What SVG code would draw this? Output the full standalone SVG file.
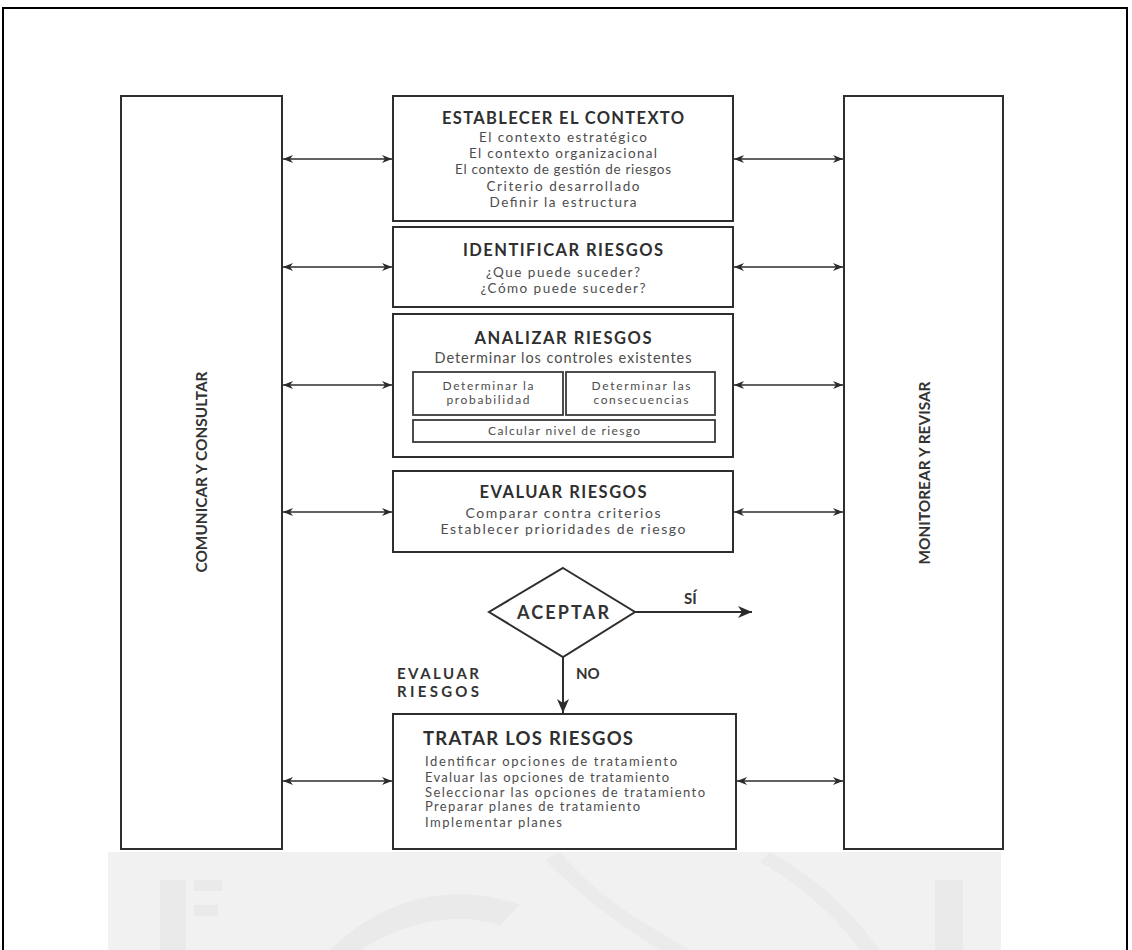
<svg xmlns="http://www.w3.org/2000/svg" width="1132" height="950" viewBox="0 0 1132 950">
  <style>
    .box { fill: #ffffff; stroke: #2e2e2e; stroke-width: 2; }
    .inner { fill: #ffffff; stroke: #3a3a3a; stroke-width: 1.8; }
    .title { font-family: Lato, "Open Sans", "Liberation Sans", sans-serif; font-weight: 700; fill: #2f2f2f; }
    .body { font-family: Lato, "Open Sans", "Liberation Sans", sans-serif; font-weight: 400; fill: #4d4d4d; }
    .label { font-family: Lato, "Open Sans", "Liberation Sans", sans-serif; font-weight: 700; fill: #333333; }
    .c { text-anchor: middle; }
    .link { fill: none; stroke: #2e2e2e; stroke-width: 1.4; }
    .flow { fill: none; stroke: #2e2e2e; stroke-width: 2; }
  </style>
  <defs>
    <marker id="head" viewBox="0 0 10 8" refX="10" refY="4" markerWidth="10" markerHeight="8" markerUnits="userSpaceOnUse" orient="auto-start-reverse">
      <path d="M0,0 L10,4 L0,8 L3,4 z" fill="#2b2b2b"/>
    </marker>
    <marker id="headBig" viewBox="0 0 14 12" refX="14" refY="6" markerWidth="14" markerHeight="12" markerUnits="userSpaceOnUse" orient="auto">
      <path d="M0,0 L14,6 L0,12 L4,6 z" fill="#2b2b2b"/>
    </marker>
  </defs>

  <!-- page frame -->
  <rect x="3" y="8" width="1124" height="960" fill="#ffffff" stroke="#000000" stroke-width="2"/>

  <!-- faint page watermark below the figure -->
  <g id="watermark">
    <rect x="108" y="852" width="893" height="98" fill="#f1f1f1"/>
    <path d="M160,880 h26 v70 h-26 z M194,880 h28 v11 h-28 z M194,905 h24 v11 h-24 z" fill="#eaeaea"/>
    <path d="M330,950 C380,900 450,880 520,905 L500,925 C450,910 400,925 360,950 z" fill="#eaeaea"/>
    <path d="M560,852 C600,900 640,920 690,950 L660,950 C620,925 585,900 545,860 z" fill="#ebebeb"/>
    <path d="M770,852 C820,880 850,910 880,950 L860,950 C835,915 800,885 760,862 z" fill="#ebebeb"/>
    <path d="M935,880 h28 v70 h-28 z" fill="#eaeaea"/>
  </g>

  <!-- side columns -->
  <g id="comunicar">
    <rect class="box" x="121" y="96" width="161" height="753"/>
    <text class="label c" transform="translate(207,472) rotate(-90)" font-size="15" font-weight="600" textLength="201" lengthAdjust="spacingAndGlyphs">COMUNICAR Y CONSULTAR</text>
  </g>
  <g id="monitorear">
    <rect class="box" x="844" y="96" width="159" height="753"/>
    <text class="label c" transform="translate(930,473) rotate(-90)" font-size="15" font-weight="600" textLength="183" lengthAdjust="spacingAndGlyphs">MONITOREAR Y REVISAR</text>
  </g>

  <!-- process steps -->
  <g id="establecer">
    <rect class="box" x="393" y="96" width="340" height="125"/>
    <text class="title c" x="563" y="123.5" font-size="16.5" textLength="242">ESTABLECER EL CONTEXTO</text>
    <text class="body c" x="563" y="141.5" font-size="13.5" textLength="168">El contexto estratégico</text>
    <text class="body c" x="563" y="157.5" font-size="13.5" textLength="188">El contexto organizacional</text>
    <text class="body c" x="563" y="173.5" font-size="13.5" textLength="216">El contexto de gestión de riesgos</text>
    <text class="body c" x="563" y="190.5" font-size="13.5" textLength="153">Criterio desarrollado</text>
    <text class="body c" x="563" y="206.5" font-size="13.5" textLength="147">Definir la estructura</text>
  </g>

  <g id="identificar">
    <rect class="box" x="393" y="227" width="340" height="80"/>
    <text class="title c" x="563" y="255.5" font-size="16.5" textLength="200">IDENTIFICAR RIESGOS</text>
    <text class="body c" x="563" y="276.5" font-size="13.5" textLength="154">¿Que puede suceder?</text>
    <text class="body c" x="563" y="292.5" font-size="13.5" textLength="165">¿Cómo puede suceder?</text>
  </g>

  <g id="analizar">
    <rect class="box" x="393" y="314" width="340" height="143"/>
    <text class="title c" x="563" y="343.5" font-size="16.5" textLength="177">ANALIZAR RIESGOS</text>
    <text class="body c" x="563" y="363" font-size="14.5" textLength="257">Determinar los controles existentes</text>
    <rect class="inner" x="413" y="372" width="150" height="43"/>
    <text class="body c" x="488" y="390" font-size="12" textLength="91">Determinar la</text>
    <text class="body c" x="488" y="404" font-size="12" textLength="83">probabilidad</text>
    <rect class="inner" x="566" y="372" width="149" height="43"/>
    <text class="body c" x="641" y="390" font-size="12" textLength="99">Determinar las</text>
    <text class="body c" x="641" y="404" font-size="12" textLength="95">consecuencias</text>
    <rect class="inner" x="413" y="420" width="302" height="22"/>
    <text class="body c" x="564" y="435" font-size="12" textLength="152">Calcular nivel de riesgo</text>
  </g>

  <g id="evaluar">
    <rect class="box" x="393" y="471" width="340" height="81"/>
    <text class="title c" x="563" y="497.5" font-size="16.5" textLength="167">EVALUAR RIESGOS</text>
    <text class="body c" x="563" y="518" font-size="14" textLength="195">Comparar contra criterios</text>
    <text class="body c" x="563" y="534" font-size="14" textLength="245">Establecer prioridades de riesgo</text>
  </g>

  <g id="aceptar">
    <polygon points="563,568 635,612 563,657 489,612" fill="#ffffff" stroke="#2e2e2e" stroke-width="2"/>
    <text class="label c" x="563" y="618.5" font-size="18" font-weight="600" textLength="92">ACEPTAR</text>
  </g>

  <g id="tratar">
    <rect class="box" x="393" y="714" width="343" height="135"/>
    <text class="title" x="423" y="744.5" font-size="18.5" textLength="210">TRATAR LOS RIESGOS</text>
    <text class="body" x="425" y="766" font-size="13" textLength="252">Identificar opciones de tratamiento</text>
    <text class="body" x="425" y="782" font-size="13" textLength="244">Evaluar las opciones de tratamiento</text>
    <text class="body" x="425" y="796.5" font-size="13" textLength="280">Seleccionar las opciones de tratamiento</text>
    <text class="body" x="425" y="811" font-size="13" textLength="215">Preparar planes de tratamiento</text>
    <text class="body" x="425" y="827" font-size="13" textLength="137">Implementar planes</text>
  </g>

  <!-- connectors -->
  <g id="connectors">
    <path class="link" d="M283,159 H392" marker-start="url(#head)" marker-end="url(#head)"/>
    <path class="link" d="M283,267 H392" marker-start="url(#head)" marker-end="url(#head)"/>
    <path class="link" d="M283,385 H392" marker-start="url(#head)" marker-end="url(#head)"/>
    <path class="link" d="M283,512 H392" marker-start="url(#head)" marker-end="url(#head)"/>
    <path class="link" d="M283,781 H392" marker-start="url(#head)" marker-end="url(#head)"/>

    <path class="link" d="M734,159 H843" marker-start="url(#head)" marker-end="url(#head)"/>
    <path class="link" d="M734,267 H843" marker-start="url(#head)" marker-end="url(#head)"/>
    <path class="link" d="M734,385 H843" marker-start="url(#head)" marker-end="url(#head)"/>
    <path class="link" d="M734,512 H843" marker-start="url(#head)" marker-end="url(#head)"/>
    <path class="link" d="M737,781 H843" marker-start="url(#head)" marker-end="url(#head)"/>

    <path class="flow" d="M635,612 H752" marker-end="url(#headBig)"/>
    <path class="flow" d="M563,657 V713" marker-end="url(#headBig)"/>

    <text class="label" x="684" y="604" font-size="15">SÍ</text>
    <text class="label" x="576" y="678.5" font-size="15" font-weight="600">NO</text>
    <text class="label" x="397" y="678.5" font-size="15" font-weight="600" textLength="82">EVALUAR</text>
    <text class="label" x="397" y="696.5" font-size="15" font-weight="600" textLength="82">RIESGOS</text>
  </g>
</svg>
